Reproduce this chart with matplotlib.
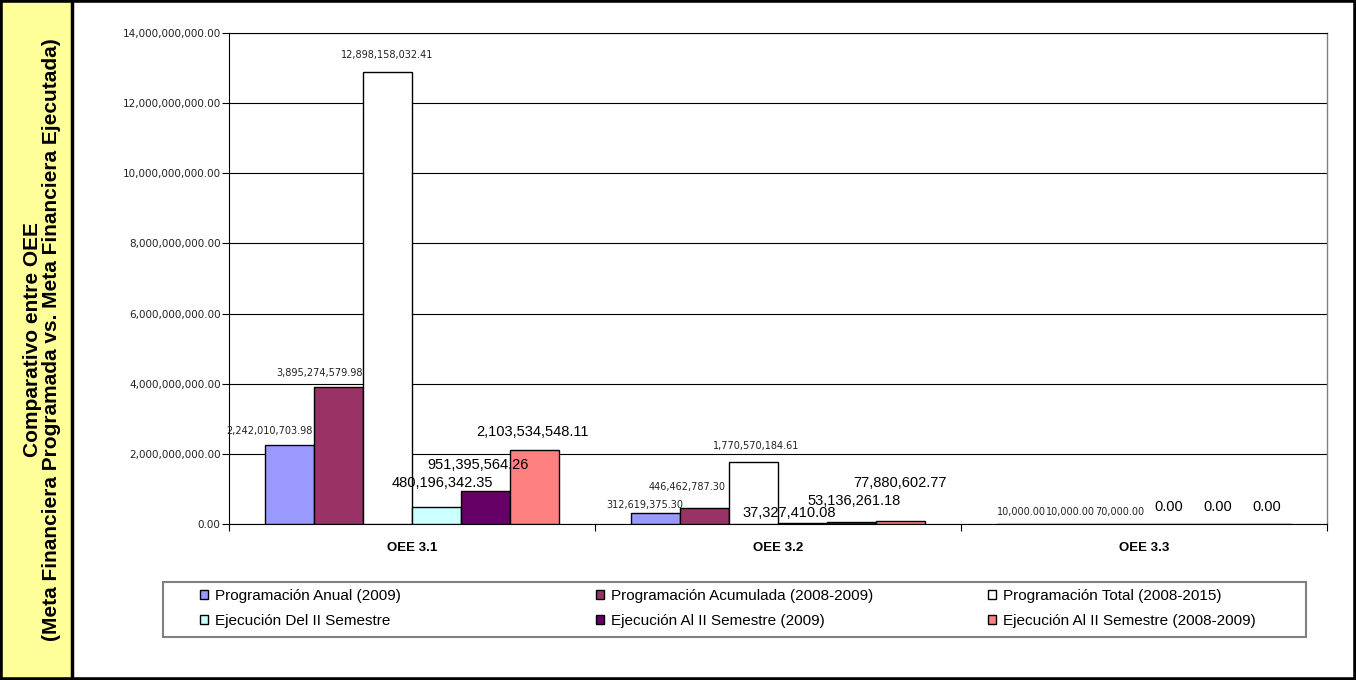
import numpy as np
import matplotlib.pyplot as plt
from matplotlib.patches import Rectangle
from matplotlib.lines import Line2D

# data
categories = ['OEE 3.1', 'OEE 3.2', 'OEE 3.3']
series_names = [
    'Programación Anual (2009)',
    'Programación Acumulada (2008-2009)',
    'Programación Total (2008-2015)',
    'Ejecución Del II Semestre',
    'Ejecución Al II Semestre (2009)',
    'Ejecución Al II Semestre (2008-2009)',
]
prog_anual = [2242010703.98, 312619375.30, 10000.00]
prog_acumulada = [3895274579.98, 446462787.30, 10000.00]
prog_total = [12898158032.41, 1770570184.61, 70000.00]
ejec_del_ii = [480196342.35, 37327410.08, 0.00]
ejec_al_ii_2009 = [951395564.26, 53136261.18, 0.00]
ejec_al_ii_0809 = [2103534548.11, 77880602.77, 0.00]
all_series = [prog_anual, prog_acumulada, prog_total,
              ejec_del_ii, ejec_al_ii_2009, ejec_al_ii_0809]

# styles
colors = ['#9999FF', '#993366', '#FFFFFF', '#CCFFFF', '#660066', '#FF8080']
# label offsets from bar top centre, pixels (labels were hand-placed in the original)
label_dy = [[14, 8, 12], [14, 21, 12], [17, 16, 12],
            [24, 10, 17], [26, 21, 17], [18, 38, 17]]
label_dx = [[-20, -11, 0], [-19, -17, 0], [0, 3, 0],
            [6, -13, 0], [-7, 3, 0], [-2, 0, 0]]
big_label = [False, False, False, True, True, True]

W, H = 1356, 680
fig = plt.figure(figsize=(W / 100, H / 100), dpi=100)
ax = fig.add_axes([229 / W, 1 - 524 / H, 1098 / W, 491 / H])

x = np.arange(len(categories))
bw = 49 / 366
bars = []
for i, vals in enumerate(all_series):
    pos = x + (i - 2.5) * bw
    b = ax.bar(pos, vals, width=bw, color=colors[i], edgecolor='black',
               linewidth=1.0, label=series_names[i], zorder=3)
    bars.append(b)
    for j, v in enumerate(vals):
        if big_label[i]:
            kw = dict(fontsize=10.5, family='Liberation Sans')
        else:
            kw = dict(fontsize=7, family='DejaVu Sans', color='#222222')
        ax.annotate(f'{v:,.2f}', (pos[j], v),
                    xytext=(label_dx[i][j], label_dy[i][j]),
                    textcoords='offset pixels', ha='center', va='center',
                    zorder=5, **kw)

ax.set_xlim(-0.5, 2.5)
ax.set_ylim(0, 14e9)
yt = np.arange(0, 14e9 + 1, 2e9)
ax.set_yticks(yt)
ax.set_yticklabels([f'{v:,.2f}' for v in yt],
                   fontsize=7.5, family='DejaVu Sans', color='#222222')
ax.tick_params(axis='y', length=5, pad=1, width=0.8)
ax.set_xticks(x)
ax.set_xticklabels(categories, fontsize=9.5, fontweight='bold',
                   family='Liberation Sans')
ax.tick_params(axis='x', which='major', length=0, pad=13)
ax.set_xticks([-0.5, 0.5, 1.5, 2.5], minor=True)
ax.tick_params(axis='x', which='minor', length=5, width=0.8)

ax.yaxis.grid(True, color='black', linewidth=0.8, zorder=0)
ax.set_axisbelow(True)
for s in ['left', 'bottom', 'top']:
    ax.spines[s].set_color('black')
    ax.spines[s].set_linewidth(0.8)
ax.spines['right'].set_color('#808080')
ax.spines['right'].set_linewidth(1.0)

# legend: one legend per column, plus a shared frame
fig.add_artist(Rectangle((163 / W, 1 - 637 / H), 1143 / W, 55 / H,
                         transform=fig.transFigure, facecolor='white',
                         edgecolor='#808080', linewidth=1.5))
col_x = [200, 596, 988]
columns = [[0, 3], [1, 4], [2, 5]]
for cx, idx in zip(col_x, columns):
    leg = fig.legend([bars[k] for k in idx], [series_names[k] for k in idx],
                     loc='center left', bbox_to_anchor=(cx / W, 1 - 608.5 / H),
                     prop={'family': 'Liberation Sans', 'size': 11},
                     handlelength=0.52, handleheight=0.52, handletextpad=0.45,
                     borderpad=0, labelspacing=0.72, frameon=False,
                     borderaxespad=0)

# yellow side panel with title
fig.add_artist(Rectangle((0, 0), 72 / W, 1, transform=fig.transFigure,
                         facecolor='#FFFF99', edgecolor='none', zorder=-5))
fig.add_artist(Line2D([72 / W, 72 / W], [0, 1], transform=fig.transFigure,
                      color='black', linewidth=2.5))
fig.text(42.5 / W, 340 / H,
         'Comparativo entre OEE\n(Meta Financiera Programada vs. Meta Financiera Ejecutada)',
         rotation=90, ha='center', va='center', multialignment='center',
         fontsize=15, fontweight='bold', family='Liberation Sans',
         linespacing=1.0)
fig.add_artist(Rectangle((0, 0), 1, 1, transform=fig.transFigure,
                         fill=False, edgecolor='black', linewidth=4))

fig.savefig('out.png', dpi=100)
